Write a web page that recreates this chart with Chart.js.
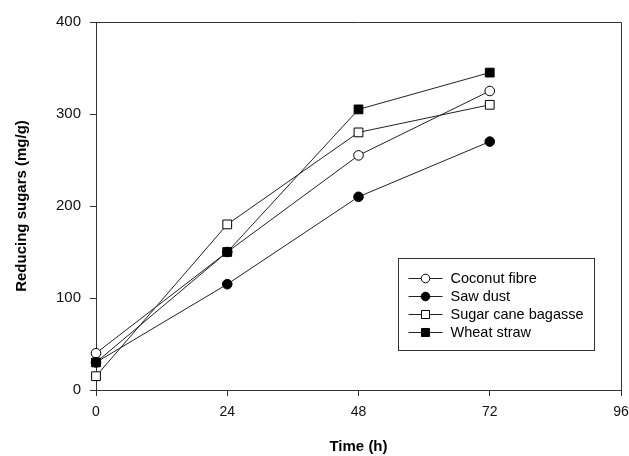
<!DOCTYPE html>
<html>
<head>
<meta charset="utf-8">
<script src="https://cdn.jsdelivr.net/npm/chart.js@4.4.1/dist/chart.umd.min.js"></script>
<style>
    html, body { margin: 0; padding: 0; background: #fff; }
    #wrap { width: 629px; height: 456px; }
</style>
</head>
<body>
<div id="wrap"><canvas id="sugarChart"></canvas></div>
<script>
const timeHours = [0, 24, 48, 72];
const coconutFibre = [40, 150, 255, 325];
const sawDust = [30, 115, 210, 270];
const sugarCaneBagasse = [15, 180, 280, 310];
const wheatStraw = [30, 150, 305, 345];
const xTicks = [0, 24, 48, 72, 96];
const yTicks = [0, 100, 200, 300, 400];

const lineColor = '#222';
const fontFamily = '"Liberation Sans", Arial, sans-serif';

function toPoints(values) {
    return values.map(function (v, i) { return { x: timeHours[i], y: v }; });
}

function makeSeries(label, values, style, filled, radius, order) {
    return {
        label: label,
        data: toPoints(values),
        borderColor: lineColor,
        borderWidth: 1,
        pointStyle: style,
        pointRadius: radius,
        pointBorderWidth: 1,
        pointBorderColor: '#000',
        pointBackgroundColor: filled ? '#000' : '#fff',
        fill: false,
        tension: 0,
        clip: false,
        order: order
    };
}

// box around the plot and the inside legend
const framePlugin = {
    id: 'frame',
    afterDraw: function (chart) {
        const ctx = chart.ctx;
        const a = chart.chartArea;
        ctx.save();
        ctx.strokeStyle = '#333';
        ctx.lineWidth = 1;
        ctx.beginPath();
        ctx.moveTo(a.left, a.top + 0.5);
        ctx.lineTo(a.right + 0.5, a.top + 0.5);
        ctx.lineTo(a.right + 0.5, a.bottom);
        ctx.stroke();

        const boxW = 196, boxH = 92;
        const bx = Math.round(a.right - 27 - boxW) + 0.5;
        const by = Math.round(a.bottom - 40 - boxH) + 0.5;
        ctx.fillStyle = '#fff';
        ctx.fillRect(bx, by, boxW, boxH);
        ctx.strokeRect(bx, by, boxW, boxH);

        ctx.font = '14.5px ' + fontFamily;
        ctx.textBaseline = 'middle';
        chart.data.datasets.forEach(function (ds, i) {
            const y = Math.round(by + 19 + i * 18) + 0.5;
            ctx.strokeStyle = lineColor;
            ctx.beginPath();
            ctx.moveTo(bx + 10, y);
            ctx.lineTo(bx + 44, y);
            ctx.stroke();
            ctx.fillStyle = ds.pointBackgroundColor;
            ctx.strokeStyle = '#000';
            ctx.lineWidth = 1;
            Chart.helpers.drawPoint(ctx, {
                pointStyle: ds.pointStyle,
                radius: ds.pointRadius - 0.5,
                borderWidth: 1
            }, bx + 27, y);
            ctx.fillStyle = '#000';
            ctx.fillText(ds.label, bx + 52, y);
        });
        ctx.restore();
    }
};

new Chart(document.getElementById('sugarChart'), {
    type: 'line',
    data: {
        datasets: [
            makeSeries('Coconut fibre', coconutFibre, 'circle', false, 4.8, 3),
            makeSeries('Saw dust', sawDust, 'circle', true, 4.8, 2),
            makeSeries('Sugar cane bagasse', sugarCaneBagasse, 'rect', false, 6.2, 1),
            makeSeries('Wheat straw', wheatStraw, 'rect', true, 6.2, 0)
        ]
    },
    options: {
        responsive: true,
        maintainAspectRatio: false,
        animation: false,
        layout: { padding: { top: 22, right: 0, left: 0, bottom: 0 } },
        plugins: {
            legend: { display: false },
            tooltip: { enabled: false }
        },
        scales: {
            x: {
                type: 'linear',
                min: 0,
                max: 96,
                afterBuildTicks: function (scale) {
                    scale.ticks = xTicks.map(function (v) { return { value: v }; });
                },
                afterFit: function (scale) {
                    scale.height = 66;
                    scale.paddingLeft = 0;
                    scale.paddingRight = 8;
                },
                border: { display: true, color: '#333', width: 1 },
                grid: { display: true, drawOnChartArea: false, drawTicks: true, tickLength: 6, color: '#333' },
                ticks: {
                    color: '#111',
                    padding: 8,
                    maxRotation: 0,
                    font: { family: fontFamily, size: 14 }
                },
                title: {
                    display: true,
                    text: 'Time (h)',
                    color: '#000',
                    padding: { top: 0, bottom: 0 },
                    font: { family: fontFamily, size: 15, weight: 'bold' }
                }
            },
            y: {
                type: 'linear',
                min: 0,
                max: 400,
                afterBuildTicks: function (scale) {
                    scale.ticks = yTicks.map(function (v) { return { value: v }; });
                },
                afterFit: function (scale) { scale.width = 96; },
                border: { display: true, color: '#333', width: 1 },
                grid: { display: true, drawOnChartArea: false, drawTicks: true, tickLength: 6, color: '#333' },
                ticks: {
                    color: '#111',
                    padding: 9,
                    font: { family: fontFamily, size: 15 }
                },
                title: {
                    display: true,
                    text: 'Reducing sugars (mg/g)',
                    color: '#000',
                    padding: { top: 13, bottom: 0 },
                    font: { family: fontFamily, size: 15, weight: 'bold' }
                }
            }
        }
    },
    plugins: [framePlugin]
});
</script>
</body>
</html>
